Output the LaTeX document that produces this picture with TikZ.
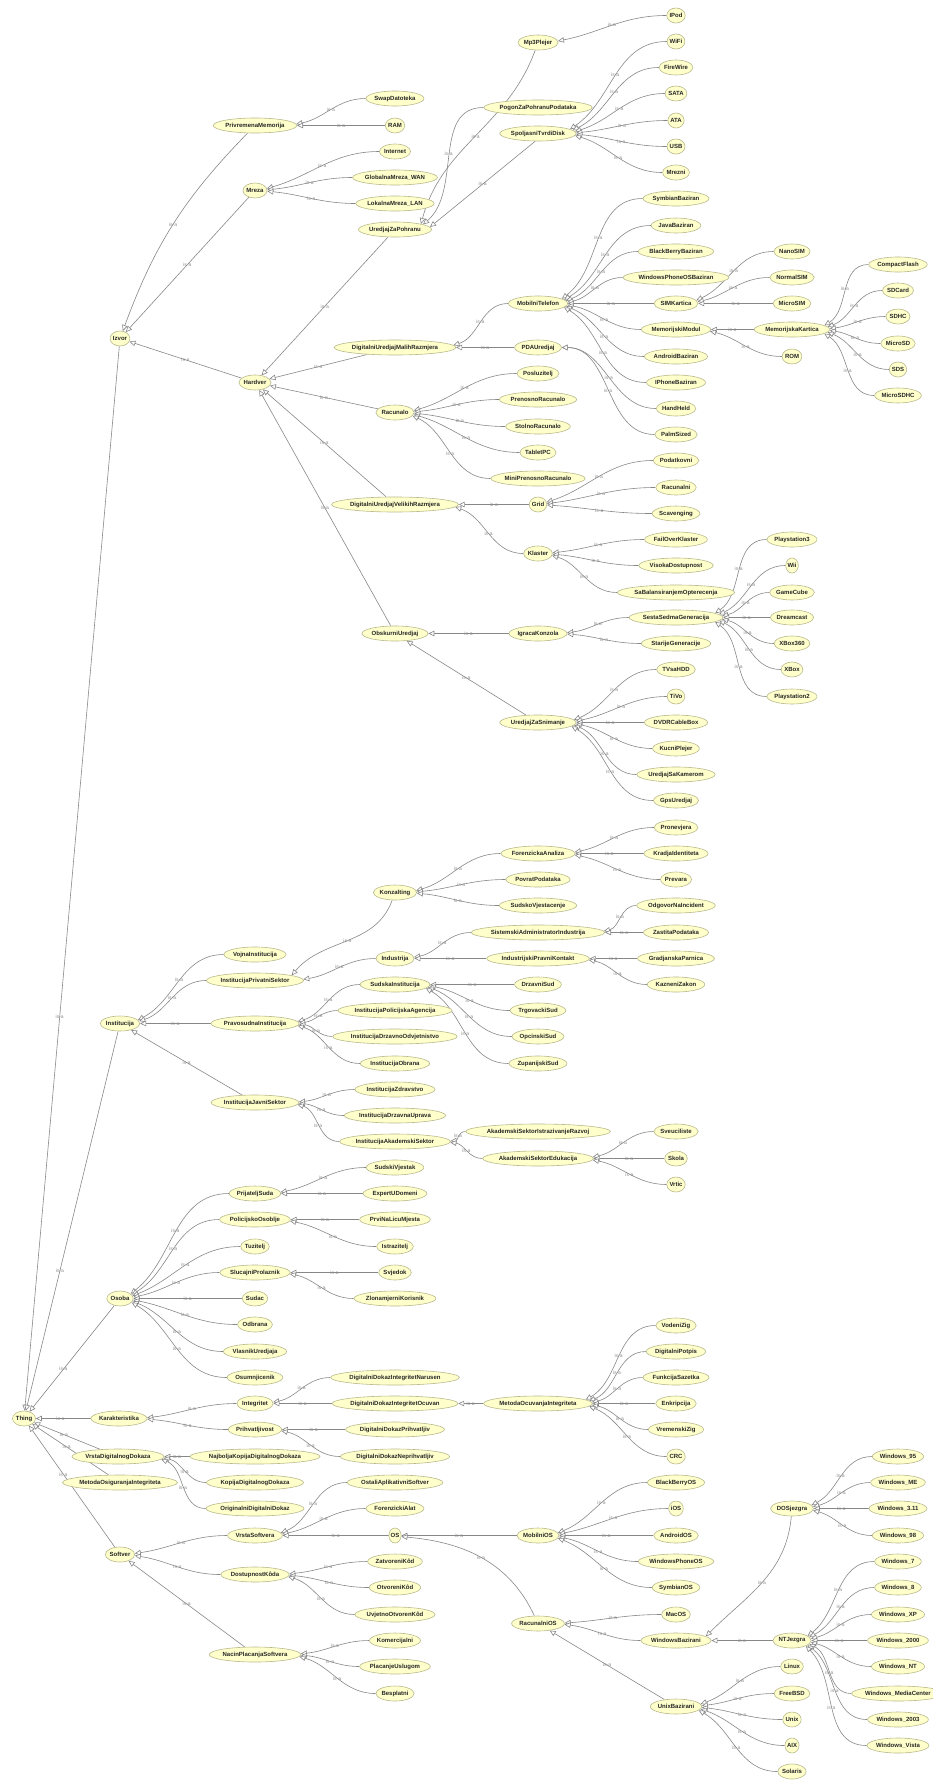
\documentclass[tikz,border=0pt]{standalone}
\usepackage{fontspec}
\usetikzlibrary{shapes.geometric,arrows.meta,calc}
\newfontfamily\lsans{Liberation Sans}
\newcommand\clsfont{\lsans\bfseries\fontsize{6}{7}\selectfont}
\newcommand\lblfont{\lsans\fontsize{5}{6}\selectfont}
\definecolor{nodefill}{RGB}{255,255,204}
\definecolor{nodeline}{RGB}{185,185,140}
\definecolor{edgecol}{RGB}{135,135,135}
\definecolor{lblcol}{RGB}{140,140,140}
\newlength\clsw
\pgfdeclarelayer{bg}
\pgfsetlayers{bg,main}
\tikzset{
 cls/.style={ellipse, draw=nodeline, fill=nodefill, line width=0.6pt, inner ysep=0pt, minimum height=15pt, font=\clsfont, text=black!85},
 isa/.style={draw=edgecol, line width=0.6pt, -{Triangle[length=6pt,width=5.5pt,fill=white]}},
 lbl/.style={font=\lblfont, text=lblcol, inner sep=0.5pt, pos=0.5},
}
\newcommand\cls[4]{\settowidth\clsw{\clsfont #4}%
 \pgfmathsetlengthmacro\clsmw{\clsw+12pt}%
 \pgfmathsetlengthmacro\clsxs{-0.3*\clsw}%
 \node[cls, minimum width=\clsmw, inner xsep=\clsxs] (#1) at (#2,{-#3-0.5}) {#4};}
\newcommand\isa[2]{\draw[isa] let \p1=(#2.center), \p2=(#1.center), \p3=(#2.east), \p4=(#2.north), \n1={atan2(\y2-\y1,\x2-\x1)}, \n2={\x1+(\x3-\x1)*cos(\n1)}, \n3={\y1+(\y4-\y1)*sin(\n1)} in (#1.west) to[out=180,in=\n1] node[lbl]{is-a} (\n2,\n3);}
\newcommand\isaS[2]{\draw[isa] (#1) -- node[lbl]{is-a} (#2);}
\newcommand\isaP[3]{\draw[isa] (#1) -- node[lbl,pos=#3]{is-a} (#2);}
\newcommand\isaC[3]{\draw[isa] (#1) to[#3] node[lbl]{is-a} (#2);}
\begin{document}
\begin{tikzpicture}[x=1pt,y=1pt]
\useasboundingbox (0,0) rectangle (932,-1783);
% column 0/1
\cls{thing}{24}{1418}{Thing}
\cls{izvor}{120}{338}{Izvor}
\cls{inst}{120}{1023}{Institucija}
\cls{osoba}{120}{1298}{Osoba}
\cls{karak}{119}{1418}{Karakteristika}
\cls{vdd}{118}{1456}{VrstaDigitalnogDokaza}
\cls{moi}{120}{1482}{MetodaOsiguranjaIntegriteta}
\cls{softver}{120}{1554}{Softver}
% column 2
\cls{privmem}{255}{125}{PrivremenaMemorija}
\cls{mreza}{255}{190}{Mreza}
\cls{hardver}{255}{382}{Hardver}
\cls{vojna}{255}{954}{VojnaInstitucija}
\cls{ips}{255}{980}{InstitucijaPrivatniSektor}
\cls{pravos}{255}{1023}{PravosudnaInstitucija}
\cls{ijs}{255}{1102}{InstitucijaJavniSektor}
\cls{prijsuda}{255}{1193}{PrijateljSuda}
\cls{polos}{255}{1219}{PolicijskoOsoblje}
\cls{tuzitelj}{255}{1246}{Tuzitelj}
\cls{slucprol}{255}{1272}{SlucajniProlaznik}
\cls{sudac}{255}{1298}{Sudac}
\cls{odbrana}{255}{1324}{Odbrana}
\cls{vlasnik}{255}{1351}{VlasnikUredjaja}
\cls{osumnj}{255}{1377}{Osumnjicenik}
\cls{integritet}{255}{1403}{Integritet}
\cls{prihv}{255}{1429}{Prihvatljivost}
\cls{najbolja}{255}{1456}{NajboljaKopijaDigitalnogDokaza}
\cls{kopija}{255}{1482}{KopijaDigitalnogDokaza}
\cls{originalni}{255}{1508}{OriginalniDigitalniDokaz}
\cls{vrstasoft}{255}{1535}{VrstaSoftvera}
\cls{dostkod}{255}{1574}{DostupnostKôda}
\cls{nacinpl}{255}{1654}{NacinPlacanjaSoftvera}
% column 3
\cls{swap}{395}{98}{SwapDatoteka}
\cls{ram}{395}{125}{RAM}
\cls{internet}{395}{151}{Internet}
\cls{wan}{395}{177}{GlobalnaMreza\_WAN}
\cls{lan}{395}{203}{LokalnaMreza\_LAN}
\cls{uzp}{395}{229}{UredjajZaPohranu}
\cls{dumr}{395}{347}{DigitalniUredjajMalihRazmjera}
\cls{racunalo}{395}{412}{Racunalo}
\cls{duvr}{395}{504}{DigitalniUredjajVelikihRazmjera}
\cls{obskurni}{395}{633}{ObskurniUredjaj}
\cls{konzalting}{395}{892}{Konzalting}
\cls{industrija}{395}{958}{Industrija}
\cls{sudska}{395}{984}{SudskaInstitucija}
\cls{ipa}{395}{1010}{InstitucijaPolicijskaAgencija}
\cls{ido}{395}{1036}{InstitucijaDrzavnoOdvjetnistvo}
\cls{iobrana}{395}{1063}{InstitucijaObrana}
\cls{izdrav}{395}{1089}{InstitucijaZdravstvo}
\cls{idu}{395}{1115}{InstitucijaDrzavnaUprava}
\cls{ias}{395}{1141}{InstitucijaAkademskiSektor}
\cls{sudvj}{395}{1167}{SudskiVjestak}
\cls{ekspert}{395}{1193}{ExpertUDomeni}
\cls{prvi}{395}{1219}{PrviNaLicuMjesta}
\cls{istraz}{395}{1246}{Istrazitelj}
\cls{svjedok}{395}{1272}{Svjedok}
\cls{zlonamj}{395}{1298}{ZlonamjerniKorisnik}
\cls{ddin}{395}{1377}{DigitalniDokazIntegritetNarusen}
\cls{ddio}{395}{1403}{DigitalniDokazIntegritetOcuvan}
\cls{ddp}{395}{1429}{DigitalniDokazPrihvatljiv}
\cls{ddnp}{395}{1456}{DigitalniDokazNeprihvatljiv}
\cls{ostali}{395}{1482}{OstaliAplikativniSoftver}
\cls{foralat}{395}{1508}{ForenzickiAlat}
\cls{os}{395}{1535}{OS}
\cls{zatvk}{395}{1561}{ZatvoreniKôd}
\cls{otvk}{395}{1587}{OtvoreniKôd}
\cls{uvjk}{395}{1614}{UvjetnoOtvorenKôd}
\cls{komerc}{395}{1640}{Komercijalni}
\cls{placusl}{395}{1666}{PlacanjeUslugom}
\cls{besplatni}{395}{1693}{Besplatni}
% column 4
\cls{mp3}{538}{42}{Mp3Plejer}
\cls{pogon}{538}{107}{PogonZaPohranuPodataka}
\cls{spoljasni}{538}{133}{SpoljasniTvrdiDisk}
\cls{mobtel}{538}{303}{MobilniTelefon}
\cls{pda}{538}{347}{PDAUredjaj}
\cls{posluz}{538}{373}{Posluzitelj}
\cls{prenosno}{538}{399}{PrenosnoRacunalo}
\cls{stolno}{538}{426}{StolnoRacunalo}
\cls{tablet}{538}{452}{TabletPC}
\cls{minipren}{538}{478}{MiniPrenosnoRacunalo}
\cls{grid}{538}{504}{Grid}
\cls{klaster}{538}{553}{Klaster}
\cls{igraca}{538}{633}{IgracaKonzola}
\cls{uzs}{538}{722}{UredjajZaSnimanje}
\cls{foran}{538}{853}{ForenzickaAnaliza}
\cls{povrat}{538}{879}{PovratPodataka}
\cls{sudvjest}{538}{905}{SudskoVjestacenje}
\cls{sai}{538}{932}{SistemskiAdministratorIndustrija}
\cls{ipk}{538}{958}{IndustrijskiPravniKontakt}
\cls{drzsud}{538}{984}{DrzavniSud}
\cls{trgsud}{538}{1010}{TrgovackiSud}
\cls{opcsud}{538}{1036}{OpcinskiSud}
\cls{zupsud}{538}{1063}{ZupanijskiSud}
\cls{asir}{538}{1131}{AkademskiSektorIstrazivanjeRazvoj}
\cls{ase}{538}{1158}{AkademskiSektorEdukacija}
\cls{moci}{538}{1403}{MetodaOcuvanjaIntegriteta}
\cls{mobos}{538}{1535}{MobilniOS}
\cls{racos}{538}{1623}{RacunalniOS}
% column 5
\cls{ipod}{676}{15}{IPod}
\cls{wifi}{676}{41}{WiFi}
\cls{firewire}{676}{67}{FireWire}
\cls{sata}{676}{93}{SATA}
\cls{ata}{676}{120}{ATA}
\cls{usb}{676}{146}{USB}
\cls{mrezni}{676}{172}{Mrezni}
\cls{symb}{676}{198}{SymbianBaziran}
\cls{java}{676}{225}{JavaBaziran}
\cls{bbb}{676}{251}{BlackBerryBaziran}
\cls{wpb}{676}{277}{WindowsPhoneOSBaziran}
\cls{simk}{676}{303}{SIMKartica}
\cls{memmod}{676}{329}{MemorijskiModul}
\cls{andb}{676}{356}{AndroidBaziran}
\cls{iphb}{676}{382}{IPhoneBaziran}
\cls{handheld}{676}{408}{HandHeld}
\cls{palm}{676}{434}{PalmSized}
\cls{podat}{676}{460}{Podatkovni}
\cls{racunalni}{676}{487}{Racunalni}
\cls{scav}{676}{513}{Scavenging}
\cls{failover}{676}{539}{FailOverKlaster}
\cls{visoka}{676}{565}{VisokaDostupnost}
\cls{sabal}{676}{592}{SaBalansiranjemOpterecenja}
\cls{sesta}{676}{617}{SestaSedmaGeneracija}
\cls{starije}{676}{643}{StarijeGeneracije}
\cls{tvsahdd}{676}{669}{TVsaHDD}
\cls{tivo}{676}{696}{TiVo}
\cls{dvdr}{676}{722}{DVDRCableBox}
\cls{kucni}{676}{748}{KucniPlejer}
\cls{kamera}{676}{774}{UredjajSaKamerom}
\cls{gps}{676}{800}{GpsUredjaj}
\cls{pronev}{676}{827}{Pronevjera}
\cls{kradja}{676}{853}{KradjaIdentiteta}
\cls{prevara}{676}{879}{Prevara}
\cls{odgovor}{676}{905}{OdgovorNaIncident}
\cls{zastita}{676}{932}{ZastitaPodataka}
\cls{gradj}{676}{958}{GradjanskaParnica}
\cls{kazneni}{676}{984}{KazneniZakon}
\cls{sveuc}{676}{1131}{Sveuciliste}
\cls{skola}{676}{1158}{Skola}
\cls{vrtic}{676}{1184}{Vrtic}
\cls{vodeni}{676}{1325}{VodeniZig}
\cls{digpot}{676}{1351}{DigitalniPotpis}
\cls{funkc}{676}{1377}{FunkcijaSazetka}
\cls{enkr}{676}{1403}{Enkripcija}
\cls{vremz}{676}{1429}{VremenskiZig}
\cls{crc}{676}{1456}{CRC}
\cls{bbos}{676}{1482}{BlackBerryOS}
\cls{ios}{676}{1508}{iOS}
\cls{andos}{676}{1535}{AndroidOS}
\cls{wpos}{676}{1561}{WindowsPhoneOS}
\cls{symbos}{676}{1587}{SymbianOS}
\cls{macos}{676}{1614}{MacOS}
\cls{winbaz}{676}{1640}{WindowsBazirani}
\cls{unixbaz}{676}{1706}{UnixBazirani}
% column 6
\cls{nanosim}{792}{251}{NanoSIM}
\cls{normalsim}{792}{277}{NormalSIM}
\cls{microsim}{792}{303}{MicroSIM}
\cls{memkart}{792}{329}{MemorijskaKartica}
\cls{rom}{792}{356}{ROM}
\cls{ps3}{792}{539}{Playstation3}
\cls{wii}{792}{565}{Wii}
\cls{gamecube}{792}{592}{GameCube}
\cls{dreamcast}{792}{617}{Dreamcast}
\cls{xbox360}{792}{643}{XBox360}
\cls{xbox}{792}{669}{XBox}
\cls{ps2}{792}{696}{Playstation2}
\cls{dos}{792}{1508}{DOSjezgra}
\cls{nt}{792}{1640}{NTJezgra}
\cls{linux}{792}{1666}{Linux}
\cls{freebsd}{792}{1693}{FreeBSD}
\cls{unix}{792}{1719}{Unix}
\cls{aix}{792}{1745}{AIX}
\cls{solaris}{792}{1771}{Solaris}
% column 7
\cls{cf}{898}{264}{CompactFlash}
\cls{sdcard}{898}{290}{SDCard}
\cls{sdhc}{898}{316}{SDHC}
\cls{microsd}{898}{343}{MicroSD}
\cls{sds}{898}{369}{SDS}
\cls{microsdhc}{898}{395}{MicroSDHC}
\cls{w95}{898}{1456}{Windows\_95}
\cls{wme}{898}{1482}{Windows\_ME}
\cls{w311}{898}{1508}{Windows\_3.11}
\cls{w98}{898}{1535}{Windows\_98}
\cls{w7}{898}{1561}{Windows\_7}
\cls{w8}{898}{1587}{Windows\_8}
\cls{wxp}{898}{1614}{Windows\_XP}
\cls{w2000}{898}{1640}{Windows\_2000}
\cls{wnt}{898}{1666}{Windows\_NT}
\cls{wmc}{898}{1693}{Windows\_MediaCenter}
\cls{w2003}{898}{1719}{Windows\_2003}
\cls{wvista}{898}{1745}{Windows\_Vista}
% edges
\begin{pgfonlayer}{bg}
\isaP{izvor}{thing}{0.63}
\isaP{inst}{thing}{0.63}
\isaP{osoba}{thing}{0.6}
\isaP{karak}{thing}{0.55}
\isaP{vdd}{thing}{0.55}
\isaP{moi}{thing}{0.55}
\isaP{softver}{thing}{0.6}
\isaC{privmem}{izvor}{bend right=12}
\isaS{mreza}{izvor}
\isaS{hardver}{izvor}
\isaS{uzp}{hardver}
\isaS{dumr}{hardver}
\isaS{racunalo}{hardver}
\isaS{duvr}{hardver}
\isaS{obskurni}{hardver}
\isa{swap}{privmem}
\isa{ram}{privmem}
\isa{internet}{mreza}
\isa{wan}{mreza}
\isa{lan}{mreza}
\isaC{mp3.250}{uzp.12}{out=250,in=75}
\isa{pogon}{uzp}
\isaS{spoljasni.250}{uzp.4}
\isa{ipod}{mp3}
\isa{wifi}{spoljasni}
\isa{firewire}{spoljasni}
\isa{sata}{spoljasni}
\isa{ata}{spoljasni}
\isa{usb}{spoljasni}
\isa{mrezni}{spoljasni}
\isa{mobtel}{dumr}
\isa{pda}{dumr}
\isa{symb}{mobtel}
\isa{java}{mobtel}
\isa{bbb}{mobtel}
\isa{wpb}{mobtel}
\isa{simk}{mobtel}
\isa{memmod}{mobtel}
\isa{andb}{mobtel}
\isa{iphb}{mobtel}
\isa{nanosim}{simk}
\isa{normalsim}{simk}
\isa{microsim}{simk}
\isa{memkart}{memmod}
\isa{rom}{memmod}
\isa{cf}{memkart}
\isa{sdcard}{memkart}
\isa{sdhc}{memkart}
\isa{microsd}{memkart}
\isa{sds}{memkart}
\isa{microsdhc}{memkart}
\isaC{handheld}{pda}{out=180,in=0}
\isaC{palm}{pda}{out=180,in=0}
\isa{posluz}{racunalo}
\isa{prenosno}{racunalo}
\isa{stolno}{racunalo}
\isa{tablet}{racunalo}
\isa{minipren}{racunalo}
\isa{grid}{duvr}
\isa{klaster}{duvr}
\isa{podat}{grid}
\isa{racunalni}{grid}
\isa{scav}{grid}
\isa{failover}{klaster}
\isa{visoka}{klaster}
\isa{sabal}{klaster}
\isa{igraca}{obskurni}
\isaS{uzs}{obskurni}
\isa{sesta}{igraca}
\isa{starije}{igraca}
\isa{ps3}{sesta}
\isa{wii}{sesta}
\isa{gamecube}{sesta}
\isa{dreamcast}{sesta}
\isa{xbox360}{sesta}
\isa{xbox}{sesta}
\isa{ps2}{sesta}
\isa{tvsahdd}{uzs}
\isa{tivo}{uzs}
\isa{dvdr}{uzs}
\isa{kucni}{uzs}
\isa{kamera}{uzs}
\isa{gps}{uzs}
\isa{vojna}{inst}
\isa{ips}{inst}
\isaS{pravos}{inst}
\isaS{ijs}{inst}
\isaC{konzalting.250}{ips.8}{out=250,in=50}
\isa{industrija}{ips}
\isa{foran}{konzalting}
\isa{povrat}{konzalting}
\isa{sudvjest}{konzalting}
\isa{pronev}{foran}
\isa{kradja}{foran}
\isa{prevara}{foran}
\isa{sai}{industrija}
\isa{ipk}{industrija}
\isa{odgovor}{sai}
\isa{zastita}{sai}
\isa{gradj}{ipk}
\isa{kazneni}{ipk}
\isa{sudska}{pravos}
\isa{ipa}{pravos}
\isa{ido}{pravos}
\isa{iobrana}{pravos}
\isa{drzsud}{sudska}
\isa{trgsud}{sudska}
\isa{opcsud}{sudska}
\isa{zupsud}{sudska}
\isa{izdrav}{ijs}
\isa{idu}{ijs}
\isa{ias}{ijs}
\isa{asir}{ias}
\isa{ase}{ias}
\isa{sveuc}{ase}
\isa{skola}{ase}
\isa{vrtic}{ase}
\isa{prijsuda}{osoba}
\isa{polos}{osoba}
\isa{tuzitelj}{osoba}
\isa{slucprol}{osoba}
\isa{sudac}{osoba}
\isa{odbrana}{osoba}
\isa{vlasnik}{osoba}
\isa{osumnj}{osoba}
\isa{sudvj}{prijsuda}
\isa{ekspert}{prijsuda}
\isa{prvi}{polos}
\isa{istraz}{polos}
\isa{svjedok}{slucprol}
\isa{zlonamj}{slucprol}
\isa{integritet}{karak}
\isa{prihv}{karak}
\isa{ddin}{integritet}
\isa{ddio}{integritet}
\isa{moci}{ddio}
\isa{vodeni}{moci}
\isa{digpot}{moci}
\isa{funkc}{moci}
\isa{enkr}{moci}
\isa{vremz}{moci}
\isa{crc}{moci}
\isa{ddp}{prihv}
\isa{ddnp}{prihv}
\isa{najbolja}{vdd}
\isa{kopija}{vdd}
\isa{originalni}{vdd}
\isa{vrstasoft}{softver}
\isa{dostkod}{softver}
\isaS{nacinpl}{softver}
\isa{ostali}{vrstasoft}
\isa{foralat}{vrstasoft}
\isa{os}{vrstasoft}
\isa{mobos}{os}
\isaC{racos.115}{os.-10}{out=115,in=-5}
\isa{bbos}{mobos}
\isa{ios}{mobos}
\isa{andos}{mobos}
\isa{wpos}{mobos}
\isa{symbos}{mobos}
\isa{macos}{racos}
\isa{winbaz}{racos}
\isaS{unixbaz}{racos}
\isaC{dos.265}{winbaz.8}{out=265,in=45}
\isa{nt}{winbaz}
\isa{w95}{dos}
\isa{wme}{dos}
\isa{w311}{dos}
\isa{w98}{dos}
\isa{w7}{nt}
\isa{w8}{nt}
\isa{wxp}{nt}
\isa{w2000}{nt}
\isa{wnt}{nt}
\isa{wmc}{nt}
\isa{w2003}{nt}
\isa{wvista}{nt}
\isa{linux}{unixbaz}
\isa{freebsd}{unixbaz}
\isa{unix}{unixbaz}
\isa{aix}{unixbaz}
\isa{solaris}{unixbaz}
\isa{zatvk}{dostkod}
\isa{otvk}{dostkod}
\isa{uvjk}{dostkod}
\isa{komerc}{nacinpl}
\isa{placusl}{nacinpl}
\isa{besplatni}{nacinpl}
\end{pgfonlayer}
\end{tikzpicture}
\end{document}
